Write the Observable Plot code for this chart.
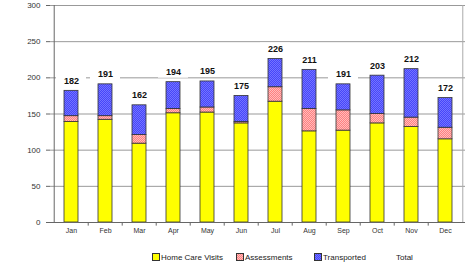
<!DOCTYPE html>
<html>
<head>
<meta charset="utf-8">
<script src="https://cdn.jsdelivr.net/npm/d3@7"></script>
<script src="https://cdn.jsdelivr.net/npm/@observablehq/plot@0.6"></script>
<style>
  body { margin: 0; background: #fff; font-family: "Liberation Sans", Arial, sans-serif; }
  #chart { width: 475px; }
  .legend { position: relative; height: 28px; font-size: 8px; color: #222; }
  .legend span { position: absolute; top: 13px; white-space: nowrap; }
  .legend i { display: inline-block; width: 6px; height: 6px; border: 1px solid #333; vertical-align: -1px; margin-right: 1px; }
</style>
</head>
<body>
<div id="chart"></div>
<script>
const months = ["Jan","Feb","Mar","Apr","May","Jun","Jul","Aug","Sep","Oct","Nov","Dec"];
const homeCareVisits = [139,142,109,151,152,137,167,126,127,137,132,115];
const assessments    = [8,5,12,6,7,2,20,31,28,13,13,16];
const transported    = [35,44,41,37,36,36,39,54,36,53,67,41];
const totals         = [182,191,162,194,195,175,226,211,191,203,212,172];
const seriesNames = ["Home Care Visits","Assessments","Transported"];
const seriesFills = ["#ffff00","url(#pinkPat)","url(#bluePat)"];
const yTicks = [0,50,100,150,200,250,300];

const seriesValues = [homeCareVisits, assessments, transported];
const rows = [];
months.forEach((m, i) => seriesNames.forEach((s, j) => rows.push({month: m, series: s, value: seriesValues[j][i]})));
const totalRows = months.map((m, i) => ({month: m, total: totals[i]}));

const W = 475, H = 240, ML = 50, MR = 10;
const step = (W - ML - MR) / months.length;

const plot = Plot.plot({
  width: W, height: H,
  marginLeft: ML, marginRight: MR, marginTop: 5, marginBottom: 18,
  style: {fontFamily: "Liberation Sans, Arial, sans-serif", background: "white"},
  x: {domain: months, paddingInner: 0.6, paddingOuter: 0.3, label: null, tickSize: 0, tickPadding: 6},
  y: {domain: [0, 300], ticks: yTicks, label: null, tickSize: 4, tickPadding: 6},
  color: {domain: seriesNames, range: seriesFills},
  marks: [
    Plot.gridY(yTicks, {stroke: "#999", strokeOpacity: 1, strokeWidth: 1}),
    Plot.ruleX([months[months.length - 1]], {dx: step / 2, stroke: "#aaa"}),
    // white label boxes that break the grid lines
    Plot.barY(totalRows, {x: "month", y1: "total", y2: "total", fill: "white",
      insetTop: -16, insetBottom: 4, insetLeft: -8, insetRight: -8}),
    Plot.barY(rows, {x: "month", y: "value", fill: "series", stroke: "#333", strokeWidth: 0.8,
      order: seriesNames}),
    Plot.text(totalRows, {x: "month", y: "total", text: d => String(d.total), dy: -10,
      fontWeight: "bold", fontSize: 9, fill: "#111"}),
    Plot.ruleY([0], {stroke: "#666"}),
    Plot.ruleX(months.slice(1), {x: d => d, dx: -step / 2, y1: 0, y2: -5, stroke: "#666"}),
    Plot.ruleX([months[0]], {dx: -step / 2, stroke: "#666"})
  ]
});

// patterns for dithered fills
const svg = d3.select(plot.tagName === "svg" ? plot : plot.querySelector("svg"));
const defs = svg.insert("defs", ":first-child");
function pat(id, a, b) {
  const p = defs.append("pattern").attr("id", id).attr("width", 2).attr("height", 2)
    .attr("patternUnits", "userSpaceOnUse");
  p.append("rect").attr("width", 2).attr("height", 2).attr("fill", a);
  p.append("rect").attr("width", 1).attr("height", 1).attr("fill", b);
  p.append("rect").attr("x", 1).attr("y", 1).attr("width", 1).attr("height", 1).attr("fill", b);
}
pat("pinkPat", "#ff8080", "#ffbcbc");
pat("bluePat", "#4646fa", "#7474ff");
svg.selectAll("g[aria-label='y-axis tick label'] text, g[aria-label='x-axis tick label'] text").attr("fill", "#333");
svg.selectAll("g[aria-label='x-axis tick label']").attr("font-size", 7);
svg.selectAll("g[aria-label='y-axis tick label']").attr("font-size", 8);
svg.selectAll("g[aria-label='y-axis tick']").attr("stroke", "#666");

document.getElementById("chart").appendChild(plot);

// legend below
const legend = document.createElement("div");
legend.className = "legend";
const items = [
  {name: "Home Care Visits", bg: "#ffff00", x: 152},
  {name: "Assessments", bg: "repeating-conic-gradient(#ff8080 0 25%, #ffbcbc 0 50%) 0 0/2px 2px", x: 236},
  {name: "Transported", bg: "repeating-conic-gradient(#4646fa 0 25%, #7474ff 0 50%) 0 0/2px 2px", x: 314},
  {name: "Total", bg: null, x: 396}
];
items.forEach(it => {
  const s = document.createElement("span");
  s.style.left = it.x + "px";
  if (it.bg) {
    const i = document.createElement("i");
    i.style.background = it.bg;
    s.appendChild(i);
  }
  s.appendChild(document.createTextNode(it.name));
  legend.appendChild(s);
});
document.getElementById("chart").appendChild(legend);
</script>
</body>
</html>
